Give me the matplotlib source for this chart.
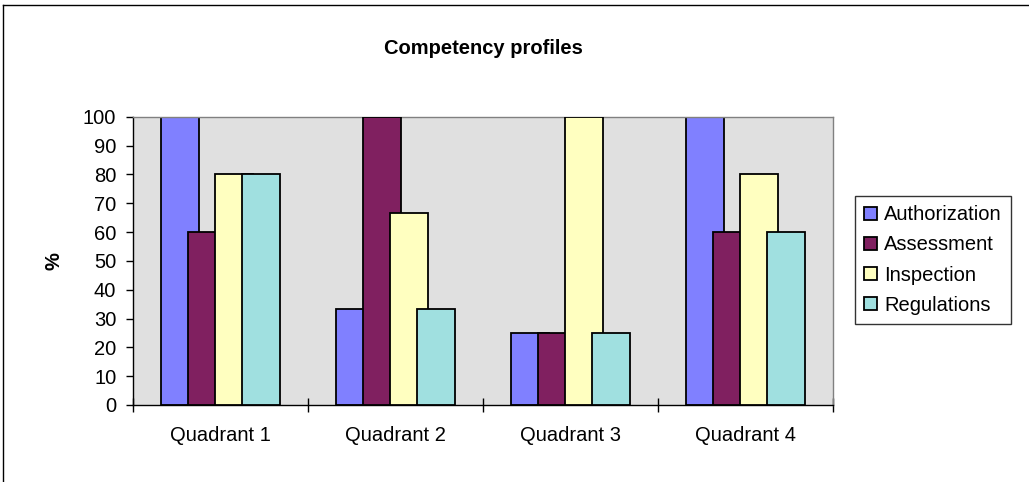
import matplotlib
matplotlib.use("Agg")
import matplotlib.pyplot as plt
import numpy as np
from matplotlib.lines import Line2D

plt.rcParams['font.family'] = ['Liberation Sans', 'DejaVu Sans']

categories = ["Quadrant 1", "Quadrant 2", "Quadrant 3", "Quadrant 4"]
series_names = ["Authorization", "Assessment", "Inspection", "Regulations"]
authorization = [100, 33.3, 25, 100]
assessment = [60, 100, 25, 60]
inspection = [80, 66.7, 100, 80]
regulations = [80, 33.3, 25, 60]
series_values = [authorization, assessment, inspection, regulations]
colors = ["#8080FF", "#802060", "#FFFFC0", "#A0E0E0"]
yticks = [0, 10, 20, 30, 40, 50, 60, 70, 80, 90, 100]

fig = plt.figure(figsize=(10.29, 4.82), dpi=100)
ax = fig.add_axes([133/1029, 77/482, 700/1029, (405-116.7)/482])
ax.set_facecolor("#E0E0E0")

x = np.arange(len(categories))
step = 0.156
width = 0.217
for k, (name, vals, col) in enumerate(zip(series_names, series_values, colors)):
    ax.bar(x + (k - 1.5) * step, vals, width=width, color=col,
           edgecolor="black", linewidth=1.3, label=name, zorder=2 + k)

ax.set_xlim(-0.5, len(categories) - 0.5)
ax.set_ylim(0, 100)
ax.set_yticks(yticks)
ax.set_yticklabels([str(v) for v in yticks])
ax.tick_params(axis='y', direction='out', length=5, width=1, labelsize=14.5, pad=7)

ax.set_xticks(np.arange(-0.5, len(categories), 1.0))
ax.set_xticklabels([])
ax.tick_params(axis='x', which='major', direction='inout', length=10, width=1)
ax.set_xticks(x, minor=True)
ax.set_xticklabels(categories, minor=True)
ax.tick_params(axis='x', which='minor', length=0, labelsize=14.5, pad=15)

for s in ['top', 'right']:
    ax.spines[s].set_color('#808080')
    ax.spines[s].set_linewidth(1.0)
for s in ['left', 'bottom']:
    ax.spines[s].set_color('black')
    ax.spines[s].set_linewidth(1.0)

ax.set_ylabel("%", fontsize=14.5, fontweight='bold', labelpad=14)
fig.text(483/1029, 1 - 49/482, "Competency profiles", ha='center', va='center',
         fontsize=14.5, fontweight='bold')

leg = fig.legend(loc='center left', bbox_to_anchor=(855/1029, 1 - 260/482),
                 fontsize=14.5, frameon=True, fancybox=False, handlelength=0.65,
                 handleheight=0.65, handletextpad=0.35, labelspacing=0.55,
                 borderpad=0.45, borderaxespad=0)
leg.get_frame().set_edgecolor('black')
leg.get_frame().set_linewidth(1.0)

# figure border (top and left edges visible)
fig.add_artist(Line2D([3/1029, 3/1029], [0, 1 - 5/482], transform=fig.transFigure,
                      color='black', linewidth=1.0))
fig.add_artist(Line2D([3/1029, 1], [1 - 5/482, 1 - 5/482], transform=fig.transFigure,
                      color='black', linewidth=1.0))

fig.savefig("out.png", dpi=100)
